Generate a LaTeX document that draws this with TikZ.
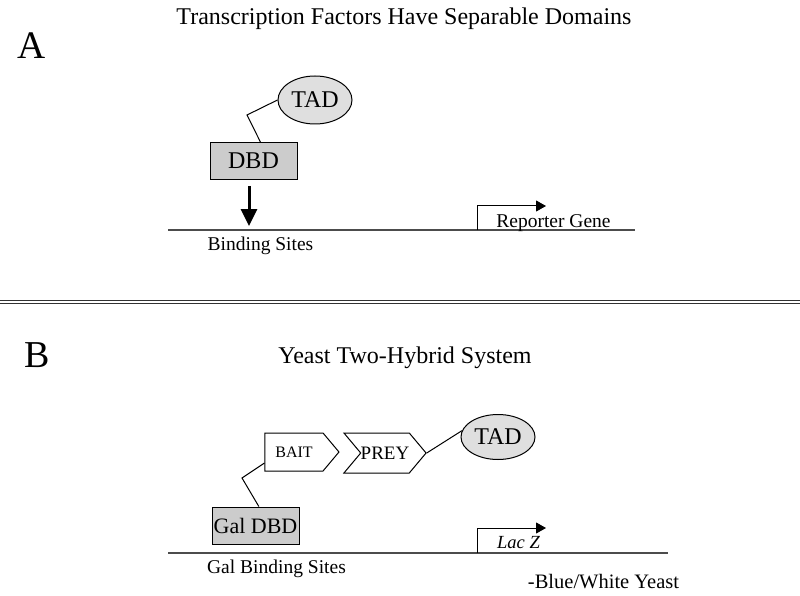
\documentclass[tikz,border=0pt]{standalone}
\usepackage{fontspec}
\setmainfont{Liberation Serif}
\usepackage{tikz}
\usetikzlibrary{arrows.meta,shapes.geometric,shapes.symbols}

\newcommand{\fsz}[1]{\fontsize{#1}{#1}\selectfont}

\tikzset{
  tadshape/.style={ellipse,draw,line width=1pt,fill=gray!25,minimum width=74pt,minimum height=48pt,inner sep=0pt,font=\fsz{24}},
  dbdbox/.style={rectangle,draw,line width=1pt,fill=gray!40,minimum width=87pt,minimum height=37pt,inner sep=0pt},
  protein/.style={signal,draw,line width=1pt,fill=white,signal to=east,signal pointer angle=100,inner sep=0pt,minimum height=38pt},
  dnaline/.style={line width=1.2pt,gray!60!black},
  linker/.style={line width=1pt},
  startarrow/.style={line width=1pt,-{Triangle[length=10pt,width=11pt]}},
  bindarrow/.style={line width=3pt,-{Triangle[length=17pt,width=16pt]}},
  lbl/.style={anchor=base,inner sep=0pt,font=\fsz{19.5}}
}

\begin{document}
\begin{tikzpicture}[x=1pt,y=-1pt]
  \useasboundingbox (0,0) rectangle (800,596);

  % panel A
  \node[font=\fsz{39}] (panA) at (32,46) {A};
  \node[lbl,font=\fsz{24}] (titleA) at (404,25) {Transcription Factors Have Separable Domains};
  \node[tadshape] (tadA) at (315,100) {TAD};
  \node[dbdbox,font=\fsz{24}] (dbdA) at (253.5,161) {DBD};
  \coordinate (bendA) at (247,115);
  \draw[linker] (tadA.west) -- (bendA) -- (dbdA.70);

  \coordinate (dnaAl) at (168,230);
  \coordinate (dnaAr) at (635,230);
  \draw[dnaline] (dnaAl) -- (dnaAr);
  \coordinate (siteA) at (249,226);
  \draw[bindarrow] ([xshift=-4.5pt,yshift=-6pt]dbdA.south) -- (siteA);
  \node[lbl] (sitesA) at (260.5,250) {Binding Sites};

  \coordinate (promA) at (477,230);
  \coordinate (geneA) at (546,206);
  \draw[startarrow] (promA) |- (geneA);
  \node[lbl] (repA) at (553.5,227) {Reporter Gene};

  % divider
  \draw[double,double distance=1.4pt,line width=1.1pt,gray!40!black] (0,302) -- (800,302);

  % panel B
  \node[font=\fsz{38}] (panB) at (37,355) {B};
  \node[lbl,font=\fsz{24}] (titleB) at (405,363) {Yeast Two-Hybrid System};
  \node[protein,minimum width=74pt,font=\fsz{16}] (bait) at (294,452) {BAIT};
  \node[protein,signal from=west,minimum width=80pt,minimum height=40pt,font=\fsz{19}] (prey) at (385,453) {PREY};
  \node[tadshape,minimum height=45pt] (tadB) at (498,437) {TAD};
  \draw[linker] (prey.east) -- (tadB.170);

  \node[dbdbox,font=\fsz{22}] (galdbd) at (255.5,525.5) {Gal DBD};
  \coordinate (bendB) at (242,478);
  \draw[linker] ([yshift=-11pt]bait.west) -- (bendB) -- (galdbd.80);

  \coordinate (dnaBl) at (168,553);
  \coordinate (dnaBr) at (668,553);
  \draw[dnaline] (dnaBl) -- (dnaBr);
  \node[lbl] (sitesB) at (276.5,573) {Gal Binding Sites};

  \coordinate (promB) at (477,553);
  \coordinate (geneB) at (546,528);
  \draw[startarrow] (promB) |- (geneB);
  \node[lbl,font=\fsz{18.5}\itshape] (lacz) at (518.5,548) {Lac Z};
  \node[lbl,font=\fsz{20.5}] (yeast) at (603.5,588) {-Blue/White Yeast};
\end{tikzpicture}
\end{document}
